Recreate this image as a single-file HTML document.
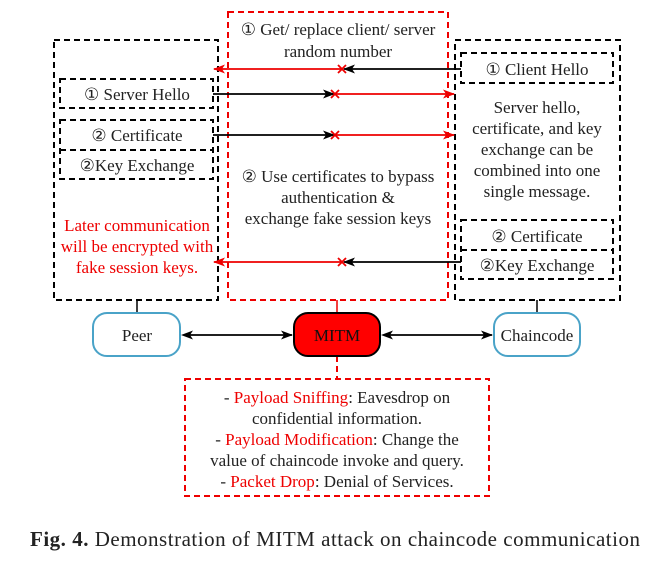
<!DOCTYPE html>
<html><head><style>
body{margin:0;background:#fff;}
svg text{font-family:"Liberation Serif",serif;}
</style></head><body>
<svg width="668" height="557" xmlns="http://www.w3.org/2000/svg">
<defs>
<marker id="ab" markerWidth="12" markerHeight="9" refX="11" refY="4.5" orient="auto" markerUnits="userSpaceOnUse"><path d="M0,0 L12,4.5 L0,9 L3,4.5Z" fill="#000"/></marker>
<marker id="ar" markerWidth="12" markerHeight="9" refX="11" refY="4.5" orient="auto" markerUnits="userSpaceOnUse"><path d="M0,0 L12,4.5 L0,9 L3,4.5Z" fill="#e00"/></marker>
</defs>
<g fill="none" stroke-width="2" stroke-dasharray="6,4">
<rect x="54" y="40" width="164" height="260" stroke="#000"/>
<rect x="228" y="12" width="220" height="288" stroke="#e00"/>
<rect x="455" y="40" width="165" height="260" stroke="#000"/>
<rect x="60" y="79" width="153" height="29" stroke="#000"/>
<rect x="60" y="120" width="153" height="59" stroke="#000"/>
<line x1="60" y1="150" x2="213" y2="150" stroke="#000"/>
<rect x="461" y="53" width="152" height="30" stroke="#000"/>
<rect x="461" y="220" width="152" height="59" stroke="#000"/>
<line x1="461" y1="250" x2="613" y2="250" stroke="#000"/>
<rect x="185" y="379" width="304" height="117" stroke="#e00"/>
<line x1="337" y1="356" x2="337" y2="379" stroke="#e00"/>
</g>
<g stroke-width="1.5">
<line x1="137" y1="300" x2="137" y2="313" stroke="#000"/>
<line x1="337" y1="300" x2="337" y2="313" stroke="#e00"/>
<line x1="537" y1="300" x2="537" y2="313" stroke="#000"/>
</g>
<g stroke-width="1.8" fill="none">
<line x1="461" y1="69" x2="344" y2="69" stroke="#000" marker-end="url(#ab)"/>
<line x1="342" y1="69" x2="214" y2="69" stroke="#e00" marker-end="url(#ar)"/>
<line x1="213" y1="94" x2="334" y2="94" stroke="#000" marker-end="url(#ab)"/>
<line x1="336" y1="94" x2="454" y2="94" stroke="#e00" marker-end="url(#ar)"/>
<line x1="213" y1="135" x2="334" y2="135" stroke="#000" marker-end="url(#ab)"/>
<line x1="336" y1="135" x2="454" y2="135" stroke="#e00" marker-end="url(#ar)"/>
<line x1="461" y1="262" x2="344" y2="262" stroke="#000" marker-end="url(#ab)"/>
<line x1="342" y1="262" x2="214" y2="262" stroke="#e00" marker-end="url(#ar)"/>
<path d="M338,65l8,8M346,65l-8,8M338,258l8,8M346,258l-8,8M331,90l8,8M339,90l-8,8M331,131l8,8M339,131l-8,8" stroke="#e00"/>
</g>
<rect x="93" y="313" width="87" height="43" rx="14" fill="#fff" stroke="#4aa3c8" stroke-width="2"/>
<rect x="294" y="313" width="86" height="43" rx="14" fill="#f00" stroke="#000" stroke-width="2"/>
<rect x="494" y="313" width="86" height="43" rx="14" fill="#fff" stroke="#4aa3c8" stroke-width="2"/>
<g stroke="#000" stroke-width="1.8">
<line x1="190" y1="335" x2="292" y2="335" marker-end="url(#ab)"/>
<line x1="390" y1="335" x2="492" y2="335" marker-end="url(#ab)"/>
</g>
<path d="M181,335 l12,-4.5 l-3,4.5 l3,4.5Z M381,335 l12,-4.5 l-3,4.5 l3,4.5Z" fill="#000"/>
<g font-size="17" fill="#222" text-anchor="middle">
<text x="338" y="35">① Get/ replace client/ server</text>
<text x="338" y="57">random number</text>
<text x="137" y="100">① Server Hello</text>
<text x="137" y="141">② Certificate</text>
<text x="137" y="171">②Key Exchange</text>
<text x="537" y="75">① Client Hello</text>
<text x="537" y="113">Server hello,</text>
<text x="537" y="134">certificate, and key</text>
<text x="537" y="155">exchange can be</text>
<text x="537" y="176">combined into one</text>
<text x="537" y="197">single message.</text>
<text x="537" y="242">② Certificate</text>
<text x="537" y="271">②Key Exchange</text>
<text x="338" y="182">② Use certificates to bypass</text>
<text x="338" y="203">authentication &amp;</text>
<text x="338" y="224">exchange fake session keys</text>
<g fill="#e00"><text x="137" y="231">Later communication</text>
<text x="137" y="252">will be encrypted with</text>
<text x="137" y="273">fake session keys.</text></g>
<text x="137" y="341">Peer</text>
<text x="337" y="341" fill="#111">MITM</text>
<text x="537" y="341">Chaincode</text>
<text x="337" y="403">- <tspan fill="#e00">Payload Sniffing</tspan>: Eavesdrop on</text>
<text x="337" y="424">confidential information.</text>
<text x="337" y="445">- <tspan fill="#e00">Payload Modification</tspan>: Change the</text>
<text x="337" y="466">value of chaincode invoke and query.</text>
<text x="337" y="487">- <tspan fill="#e00">Packet Drop</tspan>: Denial of Services.</text>
</g>
<text x="30" y="546" font-size="21" fill="#222" textLength="610" lengthAdjust="spacing"><tspan font-weight="bold">Fig. 4.</tspan> Demonstration of MITM attack on chaincode communication</text>
</svg>
</body></html>
